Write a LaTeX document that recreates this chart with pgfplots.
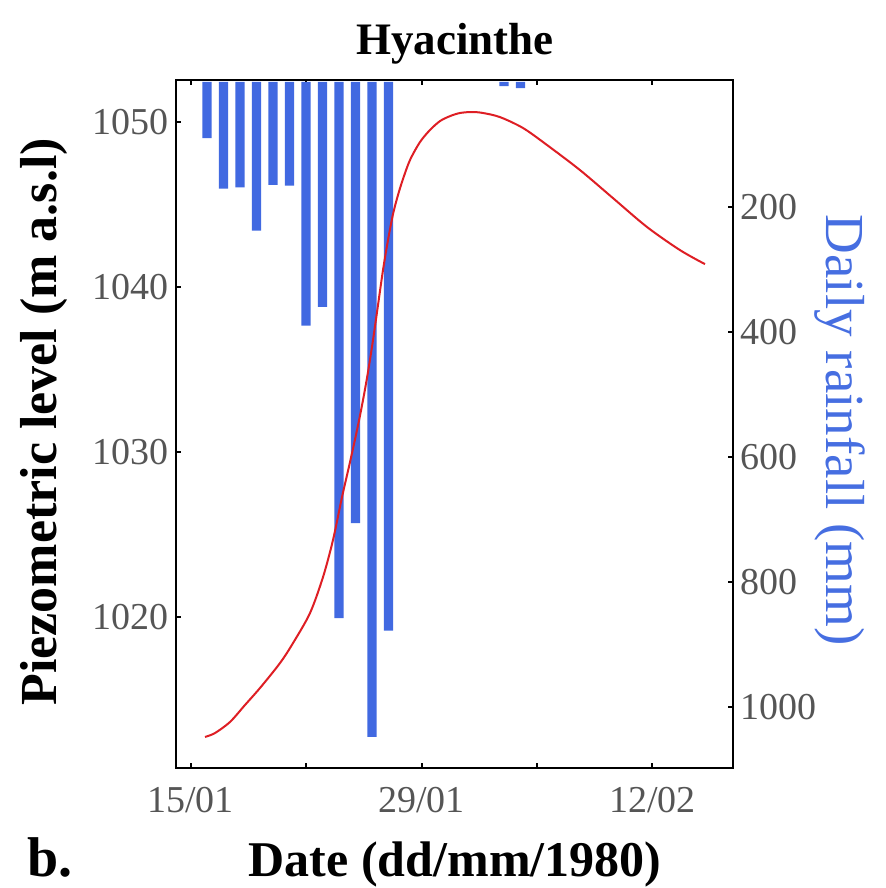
\documentclass[border=0pt]{standalone}
\usepackage{fontspec}
\setmainfont{Liberation Serif}
\usepackage{pgfplots}
\pgfplotsset{compat=1.18}
\definecolor{barblue}{RGB}{65,105,225}
\definecolor{curvered}{RGB}{222,30,36}
\definecolor{tickgray}{RGB}{85,85,85}
\definecolor{labelblue}{RGB}{70,110,225}

\pgfplotstableread{
day rain
1 90
2 171
3 169
4 238
5 165
6 166
7 390
8 360
9 858
10 706
11 1048
12 878
19 7
20 10
}\raintable

\begin{document}
\begin{tikzpicture}
\useasboundingbox (-88pt,-60pt) rectangle (355pt,384pt);
% rainfall axis (top x, right y reversed)
\begin{axis}[at={(0,0)}, anchor=south west, scale only axis,
  width=278.5pt, height=344pt,
  xmin=-0.88, xmax=32.88, ymin=-3, ymax=1098, y dir=reverse,
  xtick pos=right, ytick pos=right,
  xtick={0,7,14,21,28}, xticklabels={},
  ytick={200,400,600,800,1000},
  tick align=inside, major tick length=2.5pt,
  tick style={line width=1pt, black},
  axis line style={line width=1.2pt},
  /pgf/number format/1000 sep={},
  /pgf/number format/assume math mode=true,
  yticklabel style={font=\fontsize{19}{22}\selectfont, text=tickgray},
  ylabel={Daily rainfall (mm)},
  ylabel style={at={(axis description cs:1.192,0.491)}, anchor=center, rotate=180,
    font=\fontsize{27.5}{31}\selectfont, text=labelblue},
]
\addplot[ybar, bar width=0.55, bar shift=0pt, fill=barblue, draw=none] table[x=day, y=rain] {\raintable};
\end{axis}
% piezometric axis (bottom x, left y)
\begin{axis}[at={(0,0)}, anchor=south west, scale only axis,
  width=278.5pt, height=344pt,
  xmin=-0.88, xmax=32.88, ymin=1010.85, ymax=1052.55,
  xtick pos=left, ytick pos=left,
  xtick={0,7,14,21,28}, xticklabels={15/01,,29/01,,12/02},
  ytick={1020,1030,1040,1050},
  tick align=inside, major tick length=2.5pt,
  tick style={line width=1pt, black},
  axis line style={line width=1.2pt},
  /pgf/number format/1000 sep={},
  /pgf/number format/assume math mode=true,
  yticklabel style={font=\fontsize{19}{22}\selectfont, text=tickgray},
  xticklabel style={font=\fontsize{19}{22}\selectfont, text=tickgray, yshift=-6pt},
  title={Hyacinthe},
  title style={at={(axis description cs:0.501,1.020)}, anchor=base,
    font=\fontsize{22.5}{26}\selectfont\bfseries},
  xlabel={Date (dd/mm/1980)},
  xlabel style={at={(axis description cs:0.501,-0.157)}, anchor=base,
    font=\fontsize{25}{29}\selectfont\bfseries},
  ylabel={Piezometric level (m a.s.l)},
  ylabel style={at={(axis description cs:-0.237,0.503)}, anchor=center,
    font=\fontsize{26}{30}\selectfont\bfseries},
]
\addplot[curvered, line width=1pt, smooth, tension=0.5] coordinates {
(0.879,1012.73) (1.485,1012.97) (2.394,1013.64) (3.303,1014.67) (4.212,1015.70)
(5.424,1017.21) (6.212,1018.42) (7.242,1020.24) (8.030,1022.42) (8.636,1024.67)
(9.182,1027.27) (9.667,1029.39) (10.091,1031.33) (10.455,1033.15) (10.758,1034.85)
(11.061,1036.79) (11.364,1038.91) (11.667,1041.03) (11.970,1042.85) (12.273,1044.42)
(12.576,1045.58) (12.879,1046.55) (13.303,1047.70) (13.909,1048.79) (14.515,1049.52)
(15.121,1050.06) (15.727,1050.36) (16.333,1050.55) (17.061,1050.61) (17.727,1050.55)
(18.758,1050.30) (20.152,1049.64) (21.606,1048.61) (23.606,1047.09) (25.606,1045.39)
(27.667,1043.64) (29.667,1042.24) (31.182,1041.39)
};
\end{axis}
\node[anchor=base west, font=\fontsize{28}{32}\selectfont\bfseries] at (-78pt,-54pt) {b.};
\end{tikzpicture}
\end{document}
